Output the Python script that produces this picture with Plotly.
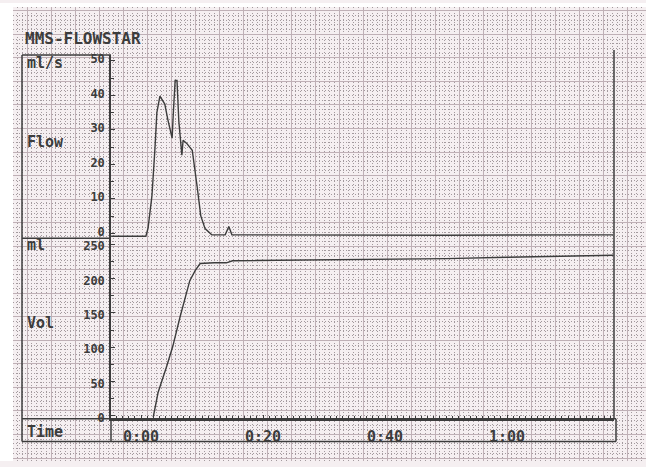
import plotly.graph_objects as go

# ---- data ----
time_flow = [-4.9, 0.8, 1.15, 1.8, 2.3, 2.6, 3.1, 3.9, 4.4, 5.1, 5.3, 5.6, 5.9, 6.2, 6.7, 6.9,
             7.5, 8.4, 9.2, 9.8, 10.5, 11.6, 13.8, 14.4, 14.9, 30, 50, 77.4]
flow = [-0.8, -0.8, 1.5, 11, 25, 35, 39.8, 37.5, 33, 27.6, 35, 44.3, 44.3, 32.5, 22.7, 27,
        26.1, 24.1, 13.6, 5.1, 1.4, -0.4, -0.4, 2.0, -0.4, -0.5, -0.5, -0.4]

time_vol = [2.0, 2.8, 4.2, 5.2, 6.4, 8.0, 8.9, 9.7, 12, 14, 15, 30, 45, 50, 60, 77.4]
vol = [-2, 34, 72, 101, 144, 197, 212, 222, 223, 223, 226, 227, 228, 229, 231, 234]

flow_ticks = [0, 10, 20, 30, 40, 50]
vol_ticks = [0, 50, 100, 150, 200, 250]
time_ticks = [0, 20, 40, 60]
time_labels = ["0:00", "0:20", "0:40", "1:00"]

title_text = "MMS-FLOWSTAR"
panel_labels = ["ml/s", "Flow", "ml", "Vol", "Time"]

# ---- styling ----
W, H = 646, 467
INK = "#3c3c3c"
PAPER = "#f5eff1"
MAJOR = "#bfb0b6"
MINOR = "#a39a9e"
FONT = "DejaVu Sans Mono"

def px(x):
    return x / W

def py(y):
    return 1 - y / H

XD = [px(111), px(614)]
TR = [-4.918, 77.54]

# flow axis: value 0 at y=235, 50 at y=59
f_scale = (235 - 59) / 50.0
F_RANGE = [-(240 - 235) / f_scale, 50 + (59 - 53) / f_scale]
# volume axis: value 0 at y=421, 250 at y=246
v_scale = (421 - 246) / 250.0
V_RANGE = [-(424 - 421) / v_scale, 250 + (246 - 240) / v_scale]

fig = go.Figure()
fig.add_trace(go.Scatter(x=time_flow, y=flow, xaxis="x2", yaxis="y2", mode="lines",
                         line=dict(color=INK, width=1.4), showlegend=False, hoverinfo="skip"))
fig.add_trace(go.Scatter(x=time_vol, y=vol, xaxis="x3", yaxis="y3", mode="lines",
                         line=dict(color=INK, width=1.4), showlegend=False, hoverinfo="skip"))

ytickfont = dict(family=FONT, size=12, color=INK, weight="bold")
xtickfont = dict(family=FONT, size=15, color=INK, weight="bold")

fig.update_layout(
    width=W, height=H,
    margin=dict(l=0, r=0, t=0, b=0),
    paper_bgcolor=PAPER,
    plot_bgcolor="rgba(0,0,0,0)",
    showlegend=False,
    xaxis=dict(domain=[px(13), 1], range=[13, W], showgrid=True, gridcolor=MAJOR, gridwidth=1,
               tick0=3, dtick=24, showticklabels=False, ticks="", zeroline=False, fixedrange=True,
               minor=dict(showgrid=True, tick0=3, dtick=4.8, gridcolor=MINOR, gridwidth=1,
                          griddash="1px,2px")),
    yaxis=dict(domain=[0, py(4)], range=[H, 4], showgrid=True, gridcolor=MAJOR, gridwidth=1,
               tick0=8, dtick=24, showticklabels=False, ticks="", zeroline=False, fixedrange=True,
               minor=dict(showgrid=True, tick0=8, dtick=4.8, gridcolor=MINOR, gridwidth=1,
                          griddash="1px,2px")),
    xaxis2=dict(domain=XD, range=TR, anchor="y2", visible=False),
    yaxis2=dict(domain=[py(240), py(53)], range=F_RANGE, anchor="x2",
                showgrid=False, zeroline=False, showline=True, linecolor=INK, linewidth=1.5,
                tickmode="array", tickvals=flow_ticks, ticks="inside", ticklen=4, tickcolor=INK,
                tickfont=ytickfont, ticklabelstandoff=2, ticklabelshift=-2,
                minor=dict(ticks="inside", tickmode="linear", tick0=0, dtick=5, ticklen=3, tickcolor=INK)),
    xaxis3=dict(domain=XD, range=TR, anchor="y3", showgrid=False, zeroline=False,
                showline=True, linecolor=INK, linewidth=1.5,
                tickmode="array", tickvals=time_ticks, ticktext=time_labels,
                ticks="inside", ticklen=4, tickcolor=INK, tickfont=xtickfont, ticklabelstandoff=3,
                minor=dict(ticks="inside", tickmode="linear", tick0=0, dtick=1, ticklen=3, tickcolor=INK)),
    yaxis3=dict(domain=[py(424), py(240)], range=V_RANGE, anchor="x3",
                showgrid=False, zeroline=False, showline=True, linecolor=INK, linewidth=1.5,
                tickmode="array", tickvals=vol_ticks, ticks="inside", ticklen=4, tickcolor=INK,
                tickfont=ytickfont, ticklabelstandoff=2, ticklabelshift=2,
                minor=dict(ticks="inside", tickmode="linear", tick0=0, dtick=25, ticklen=3, tickcolor=INK)),
)

# white scan margin on the left/top
fig.add_shape(type="rect", xref="paper", yref="paper", x0=0, x1=px(13), y0=0, y1=1,
              fillcolor="white", line=dict(width=0), layer="below")
fig.add_shape(type="rect", xref="paper", yref="paper", x0=0, x1=1, y0=py(4), y1=1,
              fillcolor="white", line=dict(width=0), layer="below")

# frame lines (pixel coordinates on the background axis)
frame = [
    (22, 53, 22, 447),
    (22, 53, 111, 53),
    (22, 240, 111, 240),
    (22, 424, 616, 424),
    (22, 447, 616, 447),
    (111, 424, 111, 447),
    (614, 48, 614, 424),
    (616, 424, 616, 447),
]
for x0, y0, x1, y1 in frame:
    fig.add_shape(type="line", xref="x", yref="y", x0=x0, y0=y0, x1=x1, y1=y1,
                  line=dict(color=INK, width=1.5), layer="above")

# texts
fig.add_annotation(x=23, y=36, xref="x", yref="y", text=title_text, showarrow=False,
                   xanchor="left", yanchor="middle", font=dict(family=FONT, size=16, color=INK, weight="bold"))
label_pos = [(25, 61), (25, 142), (25, 247), (25, 326), (25, 437)]
for txt, (x, y) in zip(panel_labels, label_pos):
    fig.add_annotation(x=x, y=y, xref="x", yref="y", text=txt, showarrow=False,
                       xanchor="left", yanchor="middle", font=dict(family=FONT, size=15, color=INK, weight="bold"))

fig.write_html("out.html", config={"displayModeBar": False},
               post_script="document.body.style.margin='0';document.body.style.padding='0';"
                           "document.documentElement.style.margin='0';")
